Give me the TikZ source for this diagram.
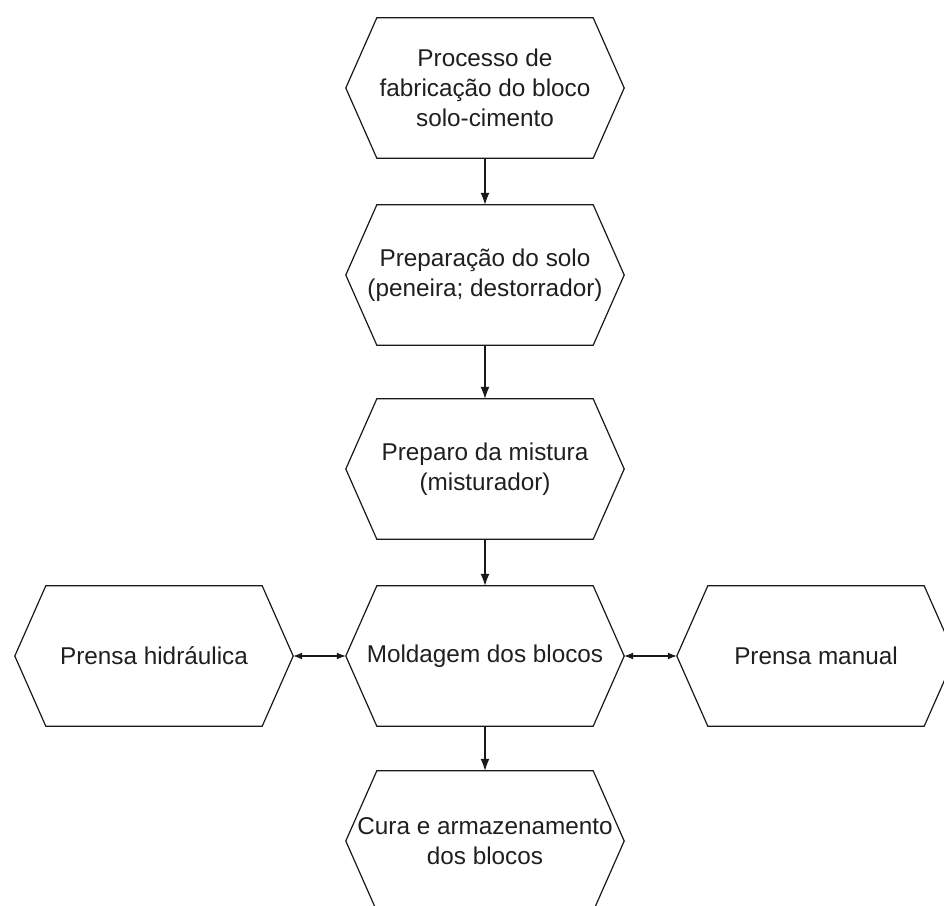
\documentclass[tikz,border=0pt]{standalone}
\usepackage{fontspec}
\setmainfont{Liberation Sans}
\usetikzlibrary{arrows.meta}
\begin{document}
\begin{tikzpicture}[x=1pt,y=-1pt,
  hexbox/.style={inner sep=0pt, minimum width=278pt, minimum height=140pt,
    align=center, text=black!88, font=\fontsize{24.3}{30}\selectfont},
  conn/.style={line width=1.2pt, draw=black!90},
  tip/.style={-{Latex[length=12pt,width=9pt]}},
  dtip/.style={{Latex[length=9pt,width=7pt]}-{Latex[length=9pt,width=7pt]}}]
\useasboundingbox (0,0) rectangle (944,905);
\node[hexbox] (p1) at (485,88) {Processo de\\fabricação do bloco\\solo-cimento};
\node[hexbox] (p2) at (485,275) {Preparação do solo\\(peneira; destorrador)};
\node[hexbox] (p3) at (485,469) {Preparo da mistura\\(misturador)};
\node[hexbox] (p4) at (485,656) {Moldagem dos blocos};
\node[hexbox] (ph) at (154,656) {Prensa hidráulica};
\node[hexbox] (pm) at (816,656) {Prensa manual};
\node[hexbox] (p5) at (485,841) {Cura e armazenamento\\dos blocos};
\foreach \n in {p1,p2,p3,p4,ph,pm,p5}
  \draw[conn] (\n.west) -- ([xshift=31pt]\n.north west) -- ([xshift=-31pt]\n.north east)
    -- (\n.east) -- ([xshift=-31pt]\n.south east) -- ([xshift=31pt]\n.south west) -- cycle;
\draw[conn,tip] (p1.south) -- (p2.north);
\draw[conn,tip] (p2.south) -- (p3.north);
\draw[conn,tip] (p3.south) -- (p4.north);
\draw[conn,tip] (p4.south) -- (p5.north);
\draw[conn,dtip] (ph.east) -- (p4.west);
\draw[conn,dtip] (p4.east) -- (pm.west);
\end{tikzpicture}
\end{document}
